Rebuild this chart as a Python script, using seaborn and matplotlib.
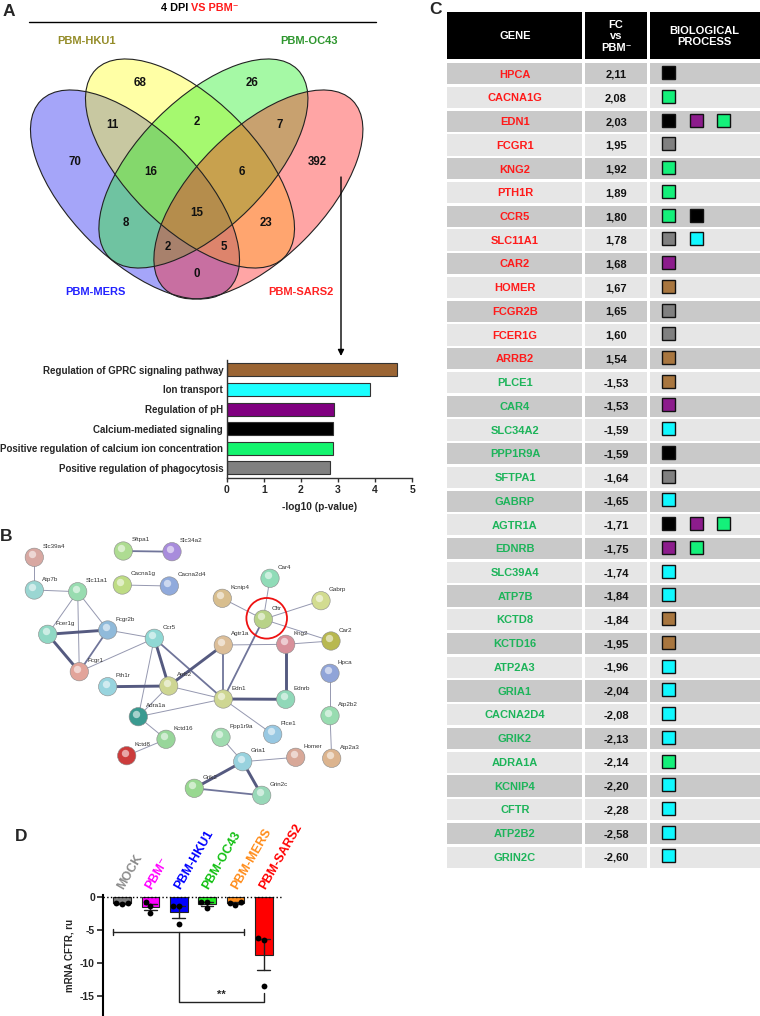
import matplotlib
matplotlib.use("Agg")
import numpy as np
import pandas as pd
import matplotlib.pyplot as plt
from matplotlib.patches import Ellipse, Rectangle, Circle
import seaborn as sns

# ---------------- data ----------------
title_black = "4 DPI "
title_red = "VS PBM\u207b"

venn_set_names = ["PBM-MERS", "PBM-HKU1", "PBM-OC43", "PBM-SARS2"]
venn_set_colors = ["#2222FF", "#948C28", "#2E962E", "#FF2222"]
venn_regions = ["M", "H", "O", "S", "MH", "HO", "OS", "MO", "HS", "MS",
                "MHO", "HOS", "MOS", "MHS", "MHOS"]
venn_counts = [70, 68, 26, 392, 11, 2, 7, 8, 23, 0, 16, 6, 2, 5, 15]

go_terms = ["Regulation of GPRC signaling pathway", "Ion transport",
            "Regulation of pH", "Calcium-mediated signaling",
            "Positive regulation of calcium ion concentration",
            "Positive regulation of phagocytosis"]
go_codes = ["GPRC", "ION", "PH", "CA", "PCA", "PHAG"]
go_logp = [4.58, 3.87, 2.90, 2.87, 2.87, 2.78]
go_colors = ["#9B6534", "#1CFFFF", "#800080", "#000000", "#14F56E", "#808080"]
square_colors = {"GPRC": "#A8763F", "ION": "#10F8FF", "PH": "#8C1C8C",
                 "CA": "#000000", "PCA": "#14F07A", "PHAG": "#808080"}

genes = ["HPCA", "CACNA1G", "EDN1", "FCGR1", "KNG2", "PTH1R", "CCR5", "SLC11A1",
         "CAR2", "HOMER", "FCGR2B", "FCER1G", "ARRB2", "PLCE1", "CAR4", "SLC34A2",
         "PPP1R9A", "SFTPA1", "GABRP", "AGTR1A", "EDNRB", "SLC39A4", "ATP7B",
         "KCTD8", "KCTD16", "ATP2A3", "GRIA1", "CACNA2D4", "GRIK2", "ADRA1A",
         "KCNIP4", "CFTR", "ATP2B2", "GRIN2C"]
gene_fc = [2.11, 2.08, 2.03, 1.95, 1.92, 1.89, 1.80, 1.78, 1.68, 1.67, 1.65, 1.60,
           1.54, -1.53, -1.53, -1.59, -1.59, -1.64, -1.65, -1.71, -1.75, -1.74,
           -1.84, -1.84, -1.95, -1.96, -2.04, -2.08, -2.13, -2.14, -2.20, -2.28,
           -2.58, -2.60]
gene_process = [["CA"], ["PCA"], ["CA", "PH", "PCA"], ["PHAG"], ["PCA"], ["PCA"],
                ["PCA", "CA"], ["PHAG", "ION"], ["PH"], ["GPRC"], ["PHAG"], ["PHAG"],
                ["GPRC"], ["GPRC"], ["PH"], ["ION"], ["CA"], ["PHAG"], ["ION"],
                ["CA", "PH", "PCA"], ["PH", "PCA"], ["ION"], ["ION"], ["GPRC"],
                ["GPRC"], ["ION"], ["ION"], ["ION"], ["ION"], ["PCA"], ["ION"],
                ["ION"], ["ION"], ["ION"]]
table_headers = ["GENE", "FC\nvs\nPBM\u207b", "BIOLOGICAL\nPROCESS"]

net_nodes = ["Slc39a4", "Atp7b", "Slc11a1", "Sftpa1", "Slc34a2", "Cacna1g",
             "Cacna2d4", "Fcer1g", "Fcgr2b", "Fcgr1", "Ccr5", "Pth1r", "Arrb2",
             "Adra1a", "Kctd16", "Kctd8", "Agtr1a", "Edn1", "Kcnip4", "Car4", "Cftr",
             "Gabrp", "Kng2", "Car2", "Hpca", "Atp2b2", "Atp2a3", "Ednrb", "Plce1",
             "Ppp1r9a", "Gria1", "Homer", "Grik2", "Grin2c"]
net_x = [34.3, 34.3, 77.7, 123.3, 172.0, 122.3, 169.3, 47.7, 107.7, 79.3, 154.3,
         107.7, 168.7, 138.3, 166.0, 126.7, 223.3, 223.3, 222.3, 270.0, 263.3,
         321.0, 285.7, 331.0, 330.0, 330.0, 331.7, 285.7, 272.7, 221.0, 242.7,
         295.7, 194.3, 261.7]
net_y = [557.3, 590.0, 591.7, 551.0, 551.7, 585.0, 586.0, 634.3, 630.0, 671.7,
         638.3, 686.7, 686.0, 716.7, 739.3, 755.7, 645.0, 699.0, 598.3, 578.3,
         619.3, 600.7, 644.3, 641.0, 673.3, 715.7, 758.3, 699.3, 734.3, 737.3,
         761.7, 757.3, 788.3, 795.3]
net_colors = ["#D8A8A2", "#9AD6D2", "#98DCB0", "#AEDC92", "#A88CDC", "#BEDC84",
              "#90AADC", "#90D8C4", "#90BADA", "#E2A49A", "#90D8D4", "#98D4DE",
              "#CED692", "#3A9A90", "#98D69A", "#CC3C3C", "#DCBE98", "#CED692",
              "#D8BE8E", "#90DCB8", "#B8D288", "#D2DC90", "#D8909A", "#B8B850",
              "#90A4D8", "#98DCB0", "#DCB48E", "#90D8B8", "#98C8E2", "#A0DCB0",
              "#98D2DE", "#D8A898", "#98D890", "#98D8B8"]
net_edges = [("Slc39a4", "Atp7b", 1), ("Atp7b", "Slc11a1", 1), ("Sftpa1", "Slc34a2", 2),
             ("Cacna1g", "Cacna2d4", 1), ("Slc11a1", "Fcer1g", 1), ("Slc11a1", "Fcgr1", 1),
             ("Slc11a1", "Fcgr2b", 1), ("Fcer1g", "Fcgr2b", 3), ("Fcer1g", "Fcgr1", 3),
             ("Fcgr2b", "Fcgr1", 2), ("Fcgr2b", "Ccr5", 1), ("Fcgr1", "Ccr5", 1),
             ("Ccr5", "Arrb2", 3), ("Ccr5", "Edn1", 2), ("Ccr5", "Adra1a", 1),
             ("Pth1r", "Arrb2", 3), ("Arrb2", "Adra1a", 1), ("Arrb2", "Edn1", 1),
             ("Arrb2", "Agtr1a", 3), ("Adra1a", "Edn1", 1), ("Adra1a", "Kctd16", 1),
             ("Kctd16", "Kctd8", 1), ("Agtr1a", "Edn1", 2), ("Agtr1a", "Kng2", 1),
             ("Kng2", "Car2", 1), ("Edn1", "Cftr", 2), ("Edn1", "Ednrb", 3),
             ("Edn1", "Plce1", 1), ("Kng2", "Ednrb", 3), ("Cftr", "Car4", 1),
             ("Cftr", "Kcnip4", 1), ("Cftr", "Gabrp", 1), ("Cftr", "Car2", 1),
             ("Hpca", "Atp2b2", 1), ("Atp2b2", "Atp2a3", 1), ("Ppp1r9a", "Gria1", 1),
             ("Gria1", "Homer", 1), ("Gria1", "Grik2", 3), ("Gria1", "Grin2c", 3),
             ("Grik2", "Grin2c", 2)]
net_highlight = "Cftr"

d_groups = ["MOCK", "PBM\u207b", "PBM-HKU1", "PBM-OC43", "PBM-MERS", "PBM-SARS2"]
d_bar_colors = ["#7F7F7F", "#FF00FF", "#0000FF", "#22EE22", "#FF8C1A", "#FF0000"]
d_label_colors = ["#8C8C8C", "#FF00FF", "#0000FF", "#11C011", "#FF8C1A", "#FF0000"]
d_values = [[-0.95, -1.0, -1.05], [-0.8, -1.4, -2.4], [-1.4, -1.4, -4.2],
            [-0.8, -0.8, -1.75], [-1.25, -0.8, -0.9], [-6.2, -6.6, -13.5]]
d_ylabel = "mRNA CFTR, ru"
d_sig = "**"

# ---------------- style ----------------
sns.set_theme(style="ticks")
plt.rcParams["font.family"] = ["Liberation Sans", "DejaVu Sans"]
plt.rcParams["font.weight"] = "bold"
plt.rcParams["axes.labelweight"] = "bold"
plt.rcParams["axes.unicode_minus"] = False

W, H = 760, 1016
fig = plt.figure(figsize=(7.6, 10.16), dpi=100)


def box(x0, y0, x1, y1):
    return [x0 / W, 1 - y1 / H, (x1 - x0) / W, (y1 - y0) / H]


# ---------------- GO bar chart ----------------
axb = fig.add_axes(box(226.7, 360, 412.3, 477.7))
axb.set_facecolor("none")
sns.barplot(x=go_logp, y=go_terms, hue=go_terms, palette=go_colors, legend=False,
            ax=axb, width=0.66, edgecolor="#333333", linewidth=0.8, saturation=1,
            orient="h")
axb.set_xlim(0, 5)
axb.set_xticks(range(6))
axb.tick_params(axis="x", length=3, width=1, labelsize=7.5, pad=2, color="#333333")
axb.tick_params(axis="y", length=0, labelsize=7, pad=2.5)
axb.set_xlabel("-log10 (p-value)", fontsize=7.3, labelpad=5)
axb.set_ylabel("")
for s in ["top", "right"]:
    axb.spines[s].set_visible(False)
for s in ["left", "bottom"]:
    axb.spines[s].set_linewidth(1)
    axb.spines[s].set_color("#333333")

# ---------------- table ----------------
ta = fig.add_axes(box(446.7, 11.7, 760, 869))
ta.set_xlim(446.7, 760)
ta.set_ylim(33.5, -2.62)
ta.axis("off")
col_spans = [(446.7, 582.1), (584.5, 647.1), (649.5, 760)]
col_centers = [515, 616, 704]
for (c0, c1), cc, txt in zip(col_spans, col_centers, table_headers):
    ta.add_patch(Rectangle((c0, -2.62), c1 - c0, 2.0, color="black", lw=0))
    ta.text(cc, -1.58, txt, color="white", ha="center", va="center", fontsize=8,
            linespacing=1.15)
for i, (g, fc, procs) in enumerate(zip(genes, gene_fc, gene_process)):
    bg = "#C9C9C9" if i % 2 == 0 else "#E6E6E6"
    for c0, c1 in col_spans:
        ta.add_patch(Rectangle((c0, i - 0.447), c1 - c0, 0.894, color=bg, lw=0))
    ta.text(col_centers[0], i + 0.03, g, ha="center", va="center", fontsize=8,
            color="#FF1A1A" if fc > 0 else "#1DB45A")
    ta.text(col_centers[1], i + 0.03, f"{fc:.2f}".replace(".", ","), ha="center",
            va="center", fontsize=8, color="#111111")
    for k, p in enumerate(procs):
        ta.add_patch(Rectangle((662.2 + 27.3 * k, i - 0.05 - 0.274), 13, 0.548,
                               facecolor=square_colors[p], edgecolor="#111111", lw=1))

# ---------------- panel D ----------------
axd = fig.add_axes(box(103.3, 895.4, 281.7, 1015.5))
axd.set_facecolor("none")
df_d = pd.DataFrame([(g, v) for g, vals in zip(d_groups, d_values) for v in vals],
                    columns=["group", "value"])
sns.barplot(data=df_d, x="group", y="value", hue="group", order=d_groups,
            hue_order=d_groups, palette=d_bar_colors, legend=False, errorbar="se",
            capsize=0.45, err_kws={"linewidth": 1.0, "color": "#222222"}, width=0.62,
            edgecolor="#222222", linewidth=0.8, saturation=1, ax=axd)
sns.swarmplot(data=df_d, x="group", y="value", order=d_groups, color="black",
              size=4.2, ax=axd)
axd.set_xlim(-0.66, 5.63)
axd.set_ylim(-18, 0.2)
axd.axhline(0, ls=":", color="black", lw=1)
axd.set_yticks([0, -5, -10, -15])
axd.set_xticks([])
axd.set_xlabel("")
axd.set_ylabel(d_ylabel, fontsize=7, labelpad=4)
axd.tick_params(axis="y", length=4, width=1.2, labelsize=7.5, pad=2)
for s in ["top", "right", "bottom"]:
    axd.spines[s].set_visible(False)
axd.spines["left"].set_linewidth(1.5)
axd.spines["left"].set_color("black")
for i, (lab, col) in enumerate(zip(d_groups, d_label_colors)):
    axd.text(i - 0.05, 1.2, lab, rotation=60, rotation_mode="anchor", ha="left",
             va="center", color=col, fontsize=9, clip_on=False)
# significance bracket
y_br, tick = -5.4, 0.45
axd.plot([-0.31, 4.31], [y_br, y_br], color="#222222", lw=1)
for xe in [-0.31, 4.31]:
    axd.plot([xe, xe], [y_br - tick, y_br + tick], color="#222222", lw=1)
axd.plot([2, 2, 5, 5], [y_br, -15.9, -15.9, -14.6], color="#222222", lw=1)
axd.text(3.5, -15.6, d_sig, ha="center", va="bottom", fontsize=8)

# ---------------- overlay: Venn, network, labels ----------------
ov = fig.add_axes([0, 0, 1, 1])
ov.set_xlim(0, W)
ov.set_ylim(H, 0)
ov.axis("off")

# panel letters
for lab, (lx, ly) in zip("ABCD", [(8.5, 12), (6.5, 536.5), (435, 10), (21, 836.5)]):
    ov.text(lx, ly, lab, fontsize=12.5, ha="center", va="center")

# title
ov.text(191, 8, title_black, ha="right", va="center", fontsize=7.8, color="black")
ov.text(191, 8, title_red, ha="left", va="center", fontsize=7.8, color="#FF1A1A")
ov.plot([29, 376], [22, 22], color="black", lw=1)

# Venn ellipses (layout in pixels): MERS, HKU1, OC43, SARS2
ell_a, ell_b = 133.0, 64.5
ell_geo = [((135.0, 194.5), 45), ((190.0, 163.5), 45),
           ((203.4, 163.5), -45), ((258.4, 194.5), -45)]
venn_fill = ["#1E1EF2", "#FFFF1E", "#1EF21E", "#FF1E1E"]
for (c, ang), fc in zip(ell_geo, venn_fill):
    ov.add_patch(Ellipse(c, 2 * ell_a, 2 * ell_b, angle=ang, facecolor=fc,
                         alpha=0.4, lw=0))
for (c, ang) in ell_geo:
    ov.add_patch(Ellipse(c, 2 * ell_a, 2 * ell_b, angle=ang, fill=False,
                         edgecolor="#222222", lw=0.8))
region_pos = {"M": (75, 162), "H": (140, 83), "O": (252, 83), "S": (317, 162),
              "MH": (112, 125), "HO": (197, 122), "OS": (280, 125), "MO": (126, 223),
              "HS": (266, 223), "MS": (197, 274), "MHO": (151, 172), "HOS": (242, 172),
              "MOS": (168, 247), "MHS": (224, 247), "MHOS": (197, 213)}
for r, n in zip(venn_regions, venn_counts):
    px, py = region_pos[r]
    ov.text(px, py, str(n), ha="center", va="center", fontsize=8.3, color="#111111")
set_pos = [(95, 292), (86, 41), (309, 41), (301, 292)]
for name, col, (px, py) in zip(venn_set_names, venn_set_colors, set_pos):
    ov.text(px, py, name, ha="center", va="center", fontsize=8, color=col)

# arrow from Venn to GO chart
ov.annotate("", xy=(341, 356), xytext=(341, 177),
            arrowprops=dict(arrowstyle="-|>", color="black", lw=1,
                            mutation_scale=9, shrinkA=0, shrinkB=0))

# network
pos = {n: (x, y) for n, x, y in zip(net_nodes, net_x, net_y)}
edge_style = {1: ("#9598B0", 0.7), 2: ("#70759A", 1.3), 3: ("#555A80", 2.1)}
for a, b, w in net_edges:
    col, lw = edge_style[w]
    ov.plot([pos[a][0], pos[b][0]], [pos[a][1], pos[b][1]], color=col, lw=lw,
            zorder=2, solid_capstyle="round")
df_net = pd.DataFrame({"node": net_nodes, "x": net_x, "y": net_y})
sns.scatterplot(data=df_net, x="x", y="y", hue="node", palette=net_colors,
                s=175, edgecolor="#8A8A8A", linewidth=0.4, legend=False, ax=ov,
                zorder=3)
ov.scatter(np.array(net_x) - 2.2, np.array(net_y) - 3.2, s=28, color="white",
           alpha=0.55, lw=0, zorder=4)
for n, x, y in zip(net_nodes, net_x, net_y):
    ov.text(x + 8, y - 11, n, fontsize=4.5, color="#333333", fontweight="normal",
            ha="left", va="center", zorder=5)
hx, hy = pos[net_highlight]
ov.add_patch(Circle((hx + 3.4, hy - 1), 20.3, fill=False, edgecolor="#EE1111",
                    lw=1.3, zorder=6))
ov.set_xlim(0, W)
ov.set_ylim(H, 0)
ov.set_xlabel("")
ov.set_ylabel("")

fig.savefig("out.png", dpi=100)
